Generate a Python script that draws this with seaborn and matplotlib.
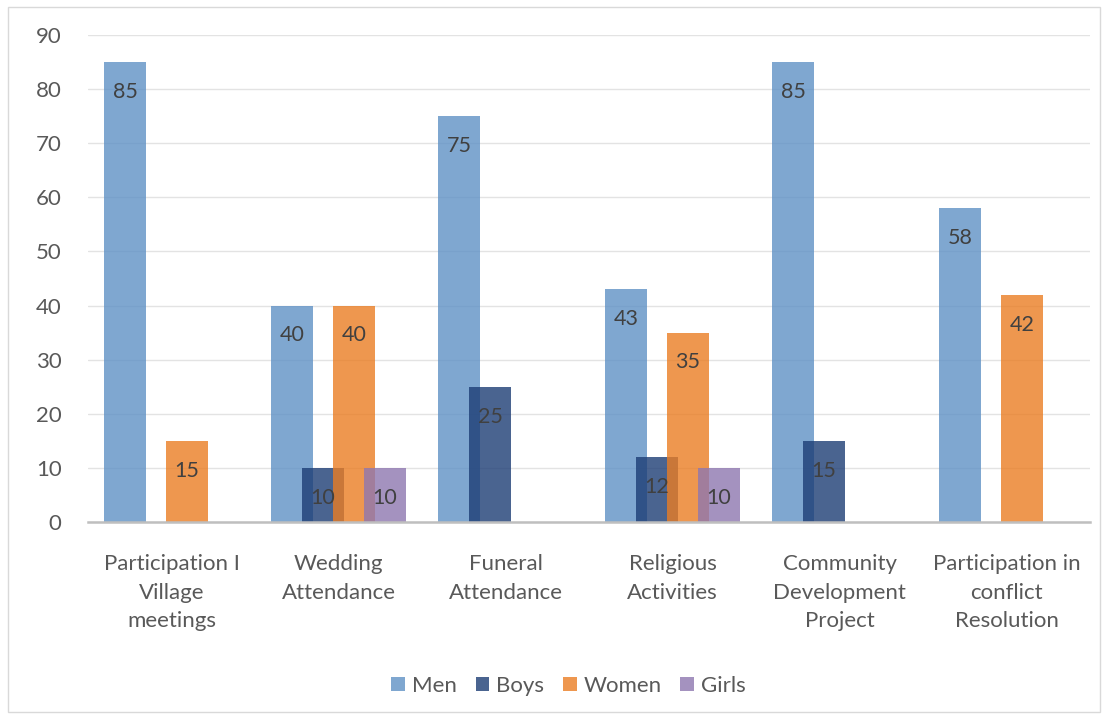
import numpy as np
import pandas as pd
import matplotlib
matplotlib.use("Agg")
import matplotlib.pyplot as plt
import seaborn as sns
from matplotlib.patches import Rectangle

categories = ["Participation I\nVillage\nmeetings", "Wedding\nAttendance", "Funeral\nAttendance",
              "Religious\nActivities", "Community\nDevelopment\nProject", "Participation in\nconflict\nResolution"]
series_names = ["Men", "Boys", "Women", "Girls"]
men = [85, 40, 75, 43, 85, 58]
boys = [None, 10, 25, 12, 15, None]
women = [15, 40, None, 35, None, 42]
girls = [None, 10, None, 10, None, None]
y_ticks = [0, 10, 20, 30, 40, 50, 60, 70, 80, 90]

colors = ["#5F91C5", "#1D3D75", "#EA7D23", "#8E77B0"]

rows = []
for name, vals in zip(series_names, [men, boys, women, girls]):
    for cat, v in zip(categories, vals):
        if v is not None:
            rows.append({"category": cat, "group": name, "value": v})
df = pd.DataFrame(rows)

sns.set_theme(style="white")
plt.rcParams['font.family'] = ['Lato', 'DejaVu Sans']

fig = plt.figure(figsize=(11.07, 7.19), dpi=100)
ax = fig.add_axes([88/1107, 1-522/719, 1002/1107, (522-35)/719])

sns.barplot(data=df, x="category", y="value", hue="group", order=categories,
            hue_order=series_names, palette=colors, width=0.7425, gap=-0.3227,
            saturation=1, alpha=0.8, linewidth=0, errorbar=None, ax=ax, legend=True)

ax.set_xlim(-0.5, 5.5)
ax.set_ylim(0, 90)
ax.set_yticks(y_ticks)
ax.yaxis.grid(True, color="#E3E3E3", linewidth=1)
ax.set_axisbelow(True)
ax.set_xlabel("")
ax.set_ylabel("")
for s in ["top", "right", "left"]:
    ax.spines[s].set_visible(False)
ax.spines["bottom"].set_color("#BFBFBF")
ax.spines["bottom"].set_linewidth(1.8)
ax.tick_params(axis="y", length=0, pad=19, labelsize=16, labelcolor="#595959")
ax.tick_params(axis="x", length=0, pad=23, labelsize=16, labelcolor="#595959")
for lbl in ax.get_xticklabels():
    lbl.set_linespacing(1.54)
    lbl.set_verticalalignment("top")

for cont in ax.containers:
    for p in cont.patches:
        h = p.get_height()
        if h is None or np.isnan(h) or h == 0:
            continue
        ax.annotate(f"{h:.0f}", (p.get_x() + p.get_width()/2, h), xytext=(0, -21.5),
                    textcoords="offset points", ha="center", va="center",
                    fontsize=15.5, color="#404040")

handles, labels = ax.get_legend_handles_labels()
ax.get_legend().remove()
fig.legend(handles, labels, loc="center", bbox_to_anchor=(0.5135, 1-686/719), ncol=4,
           frameon=False, fontsize=16, handlelength=0.62, handleheight=0.62,
           handletextpad=0.3, columnspacing=0.85, labelcolor="#595959")

fig.patches.append(Rectangle((8/1107, 1-712/719), 1092/1107, 705/719, transform=fig.transFigure,
                             fill=False, edgecolor="#D9D9D9", linewidth=1))

fig.savefig("out.png", dpi=100)
